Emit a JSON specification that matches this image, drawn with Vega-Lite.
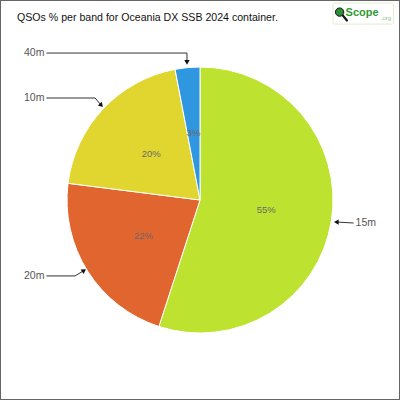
{
  "$schema": "https://vega.github.io/schema/vega-lite/v6.json",
  "width": 400,
  "height": 400,
  "autosize": "none",
  "padding": 0,
  "background": "white",
  "title": {
    "text": "QSOs % per band for Oceania DX SSB 2024 container.",
    "anchor": "start",
    "frame": "group",
    "offset": -24,
    "dx": 17,
    "font": "Liberation Sans",
    "fontSize": 10.6,
    "fontWeight": "normal",
    "color": "#111"
  },
  "config": {
    "view": {"stroke": "#666", "strokeWidth": 2},
    "font": "Liberation Sans"
  },
  "datasets": {
    "bands": [
      {"band": "15m", "pct": 55},
      {"band": "20m", "pct": 22},
      {"band": "10m", "pct": 20},
      {"band": "40m", "pct": 3}
    ],
    "leaders": [
      {"band": "40m", "step": 1, "u": -1.155, "v": 1.105},
      {"band": "40m", "step": 2, "u": -0.098, "v": 1.105},
      {"band": "40m", "step": 3, "u": -0.098, "v": 1.04},
      {"band": "10m", "step": 1, "u": -1.155, "v": 0.767},
      {"band": "10m", "step": 2, "u": -0.789, "v": 0.767},
      {"band": "10m", "step": 3, "u": -0.745, "v": 0.715},
      {"band": "20m", "step": 1, "u": -1.155, "v": -0.571},
      {"band": "20m", "step": 2, "u": -0.94, "v": -0.571},
      {"band": "20m", "step": 3, "u": -0.875, "v": -0.532},
      {"band": "15m", "step": 1, "u": 1.155, "v": -0.173},
      {"band": "15m", "step": 2, "u": 1.03, "v": -0.166}
    ],
    "tips": [
      {"band": "40m", "u": -0.098, "v": 1.035, "dir": 180, "lu": -1.17, "lv": 1.105, "side": "right"},
      {"band": "10m", "u": -0.742, "v": 0.712, "dir": 138, "lu": -1.17, "lv": 0.767, "side": "right"},
      {"band": "20m", "u": -0.872, "v": -0.53, "dir": 57, "lu": -1.17, "lv": -0.571, "side": "right"},
      {"band": "15m", "u": 1.025, "v": -0.166, "dir": 270, "lu": 1.17, "lv": -0.173, "side": "left"}
    ]
  },
  "layer": [
    {
      "data": {"name": "bands"},
      "mark": {"type": "arc", "outerRadius": 133, "stroke": "white", "strokeWidth": 1},
      "encoding": {
        "theta": {"field": "pct", "type": "quantitative", "stack": true},
        "order": {"field": "pct", "sort": "descending"},
        "color": {
          "field": "band",
          "type": "nominal",
          "scale": {
            "domain": ["15m", "20m", "10m", "40m"],
            "range": ["#bde22f", "#e0652f", "#e0d62f", "#2f96e0"]
          },
          "legend": null
        }
      }
    },
    {
      "data": {"name": "bands"},
      "transform": [{"calculate": "datum.pct + '%'", "as": "label"}],
      "mark": {"type": "text", "radius": 67, "fontSize": 9.5, "color": "#6a6a6a", "baseline": "middle"},
      "encoding": {
        "theta": {"field": "pct", "type": "quantitative", "stack": true},
        "order": {"field": "pct", "sort": "descending"},
        "text": {"field": "label"},
        "detail": {"field": "band"}
      }
    },
    {
      "data": {"name": "leaders"},
      "mark": {"type": "line", "color": "#333", "strokeWidth": 1},
      "encoding": {
        "x": {"field": "u", "type": "quantitative", "scale": {"domain": [-1.504, 1.504], "nice": false, "zero": false}, "axis": null},
        "y": {"field": "v", "type": "quantitative", "scale": {"domain": [-1.504, 1.504], "nice": false, "zero": false}, "axis": null},
        "detail": {"field": "band"},
        "order": {"field": "step"}
      }
    },
    {
      "data": {"name": "tips"},
      "mark": {"type": "point", "shape": "triangle-up", "filled": true, "color": "#111", "size": 28, "opacity": 1},
      "encoding": {
        "x": {"field": "u", "type": "quantitative"},
        "y": {"field": "v", "type": "quantitative"},
        "angle": {"field": "dir", "type": "quantitative", "scale": null}
      }
    },
    {
      "data": {"name": "tips"},
      "transform": [{"filter": "datum.side == 'right'"}],
      "mark": {"type": "text", "align": "right", "baseline": "middle", "fontSize": 10.5, "color": "#555"},
      "encoding": {
        "x": {"field": "lu", "type": "quantitative"},
        "y": {"field": "lv", "type": "quantitative"},
        "text": {"field": "band"}
      }
    },
    {
      "data": {"name": "tips"},
      "transform": [{"filter": "datum.side == 'left'"}],
      "mark": {"type": "text", "align": "left", "baseline": "middle", "fontSize": 10.5, "color": "#555"},
      "encoding": {
        "x": {"field": "lu", "type": "quantitative"},
        "y": {"field": "lv", "type": "quantitative"},
        "text": {"field": "band"}
      }
    },
    {
      "data": {"values": [{}]},
      "mark": {"type": "rect", "fill": "white", "stroke": "#e4ecd0", "strokeWidth": 1, "cornerRadius": 2},
      "encoding": {
        "x": {"datum": 1.0, "type": "quantitative"},
        "x2": {"datum": 1.455},
        "y": {"datum": 1.481, "type": "quantitative"},
        "y2": {"datum": 1.323}
      }
    },
    {
      "data": {"values": [{}]},
      "mark": {"type": "rule", "color": "#111", "strokeWidth": 2.2, "strokeCap": "round"},
      "encoding": {
        "x": {"datum": 1.072, "type": "quantitative"},
        "x2": {"datum": 1.105},
        "y": {"datum": 1.39, "type": "quantitative"},
        "y2": {"datum": 1.35}
      }
    },
    {
      "data": {"values": [{}]},
      "mark": {"type": "point", "filled": true, "color": "#2e8b3a", "stroke": "#111", "strokeWidth": 1, "size": 70, "opacity": 1},
      "encoding": {
        "x": {"datum": 1.05, "type": "quantitative"},
        "y": {"datum": 1.413, "type": "quantitative"}
      }
    },
    {
      "data": {"values": [{}]},
      "mark": {"type": "text", "align": "left", "baseline": "middle", "fontSize": 11, "fontWeight": "bold", "color": "#2f9a2f", "text": "Scope"},
      "encoding": {
        "x": {"datum": 1.095, "type": "quantitative"},
        "y": {"datum": 1.405, "type": "quantitative"}
      }
    },
    {
      "data": {"values": [{}]},
      "mark": {"type": "text", "align": "left", "baseline": "middle", "fontSize": 6, "color": "#8cc47a", "text": ".org"},
      "encoding": {
        "x": {"datum": 1.36, "type": "quantitative"},
        "y": {"datum": 1.37, "type": "quantitative"}
      }
    }
  ]
}
